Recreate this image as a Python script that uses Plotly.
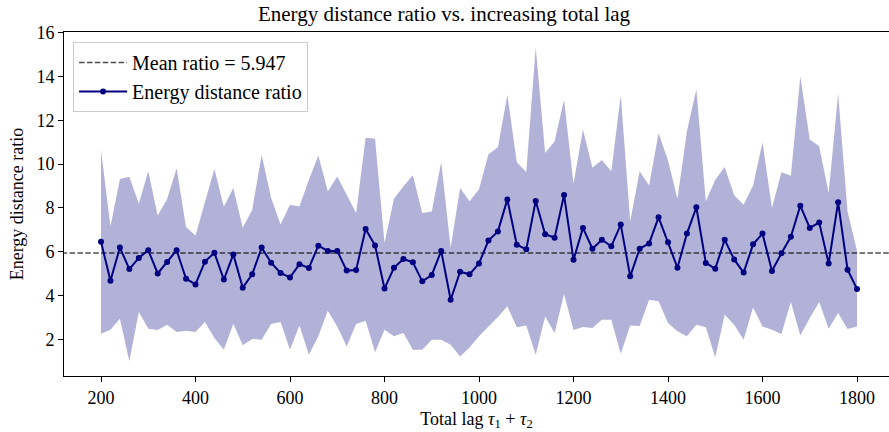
import plotly.graph_objects as go

lags = list(range(200, 1801, 20))

ratio = [6.46, 4.68, 6.19, 5.21, 5.72, 6.07, 5.01, 5.53, 6.07, 4.77,
         4.51, 5.55, 5.95, 4.73, 5.88, 4.36, 4.97, 6.19, 5.50, 5.03,
         4.83, 5.43, 5.26, 6.28, 6.04, 6.04, 5.14, 5.17, 7.04, 6.29,
         4.32, 5.27, 5.67, 5.52, 4.65, 4.94, 6.04, 3.81, 5.09, 4.97,
         5.47, 6.51, 6.93, 8.39, 6.32, 6.11, 8.32, 6.80, 6.64, 8.59,
         5.63, 7.09, 6.14, 6.55, 6.25, 7.24, 4.88, 6.14, 6.38, 7.57,
         6.43, 5.27, 6.83, 8.03, 5.49, 5.23, 6.55, 5.65, 5.05, 6.34,
         6.83, 5.12, 5.93, 6.68, 8.10, 7.09, 7.33, 5.46, 8.26, 5.18,
         4.30]

upper = [10.66, 7.16, 9.32, 9.42, 8.20, 9.67, 7.65, 8.41, 9.81, 7.13,
         6.74, 8.23, 9.79, 8.05, 8.91, 7.10, 7.92, 10.43, 8.46, 7.24,
         8.15, 8.07, 9.29, 10.39, 8.76, 9.44, 8.64, 7.77, 11.20, 11.16,
         6.40, 8.42, 8.99, 9.49, 7.77, 7.84, 10.10, 6.20, 8.91, 8.30,
         8.85, 10.45, 10.77, 13.17, 10.08, 9.64, 15.33, 10.51, 11.04, 12.94,
         9.10, 11.58, 9.83, 10.19, 9.67, 13.14, 7.39, 9.67, 9.03, 11.42,
         10.16, 8.42, 11.50, 13.42, 8.30, 9.29, 9.87, 8.58, 8.15, 9.03,
         11.00, 8.00, 9.63, 9.47, 14.01, 11.12, 10.81, 8.68, 13.22, 7.84,
         6.05]

lower = [2.26, 2.44, 2.94, 1.00, 3.25, 2.49, 2.43, 2.67, 2.34, 2.40,
         2.34, 2.79, 2.06, 1.53, 2.72, 1.73, 2.02, 1.99, 2.70, 2.80,
         1.53, 2.63, 1.30, 2.14, 3.31, 2.59, 1.68, 2.70, 2.85, 1.41,
         2.44, 2.14, 2.29, 1.53, 1.53, 1.99, 1.99, 1.76, 1.22, 1.63,
         2.14, 2.57, 3.02, 3.51, 2.55, 2.64, 1.30, 3.05, 2.29, 4.07,
         2.43, 2.57, 2.52, 2.90, 2.90, 1.35, 2.63, 2.61, 3.81, 3.74,
         2.75, 2.37, 2.14, 2.67, 2.55, 1.18, 3.13, 2.67, 1.99, 3.46,
         2.59, 2.44, 2.25, 3.71, 2.18, 2.98, 3.71, 2.49, 3.21, 2.47,
         2.59]

mean_ratio = 5.947

x_ticks = [200, 400, 600, 800, 1000, 1200, 1400, 1600, 1800]
y_ticks = [2, 4, 6, 8, 10, 12, 14, 16]

FONT = "Liberation Serif"
NAVY = "#000080"

fig = go.Figure()

fig.add_trace(go.Scatter(x=lags, y=upper, mode="lines", line=dict(width=0),
                         showlegend=False, hoverinfo="skip"))
fig.add_trace(go.Scatter(x=lags, y=lower, mode="lines", line=dict(width=0),
                         fill="tonexty", fillcolor="rgba(0,0,128,0.3)",
                         showlegend=False, hoverinfo="skip"))

fig.add_trace(go.Scatter(x=[100, 1900], y=[mean_ratio, mean_ratio], mode="lines",
                         line=dict(color="rgba(0,0,0,0.7)", width=1.5, dash="5.5px,2.4px"),
                         name=f"Mean ratio = {mean_ratio:.3f}"))

fig.add_trace(go.Scatter(x=lags, y=ratio, mode="lines+markers",
                         line=dict(color=NAVY, width=2),
                         marker=dict(color=NAVY, size=6),
                         name="Energy distance ratio"))

fig.update_layout(
    width=889, height=432,
    margin=dict(l=64, r=0, t=32, b=56),
    paper_bgcolor="white", plot_bgcolor="white",
    font=dict(family=FONT, size=18, color="black"),
    title=dict(text="Energy distance ratio vs. increasing total lag",
               x=444 / 889, xref="container", xanchor="center",
               y=1 - 14 / 432, yref="container", yanchor="middle",
               font=dict(family=FONT, size=21, color="black")),
    legend=dict(x=0.011, y=0.971, xanchor="left", yanchor="top",
                traceorder="normal",
                bgcolor="rgba(255,255,255,0.8)", bordercolor="#cccccc", borderwidth=1,
                font=dict(family=FONT, size=20, color="black"),
                itemwidth=48, tracegroupgap=0),
)

fig.update_xaxes(
    range=[121.7, 1867.7], tickvals=x_ticks, ticktext=[str(t) for t in x_ticks],
    showgrid=False, zeroline=False,
    showline=True, linecolor="black", linewidth=1, mirror=True,
    ticks="outside", ticklen=5, tickcolor="black",
    tickfont=dict(family=FONT, size=18),
    title=dict(text="Total lag <i>τ</i><sub>1</sub> + <i>τ</i><sub>2</sub>",
               font=dict(family=FONT, size=18), standoff=5),
)
fig.update_yaxes(
    range=[0.33, 16.03], tickvals=y_ticks, ticktext=[str(t) for t in y_ticks],
    showgrid=False, zeroline=False,
    showline=True, linecolor="black", linewidth=1, mirror=False,
    ticks="outside", ticklen=5, tickcolor="black",
    tickfont=dict(family=FONT, size=18),
    title=dict(text="Energy distance ratio", font=dict(family=FONT, size=18), standoff=8),
)

fig.write_html("out.html")
